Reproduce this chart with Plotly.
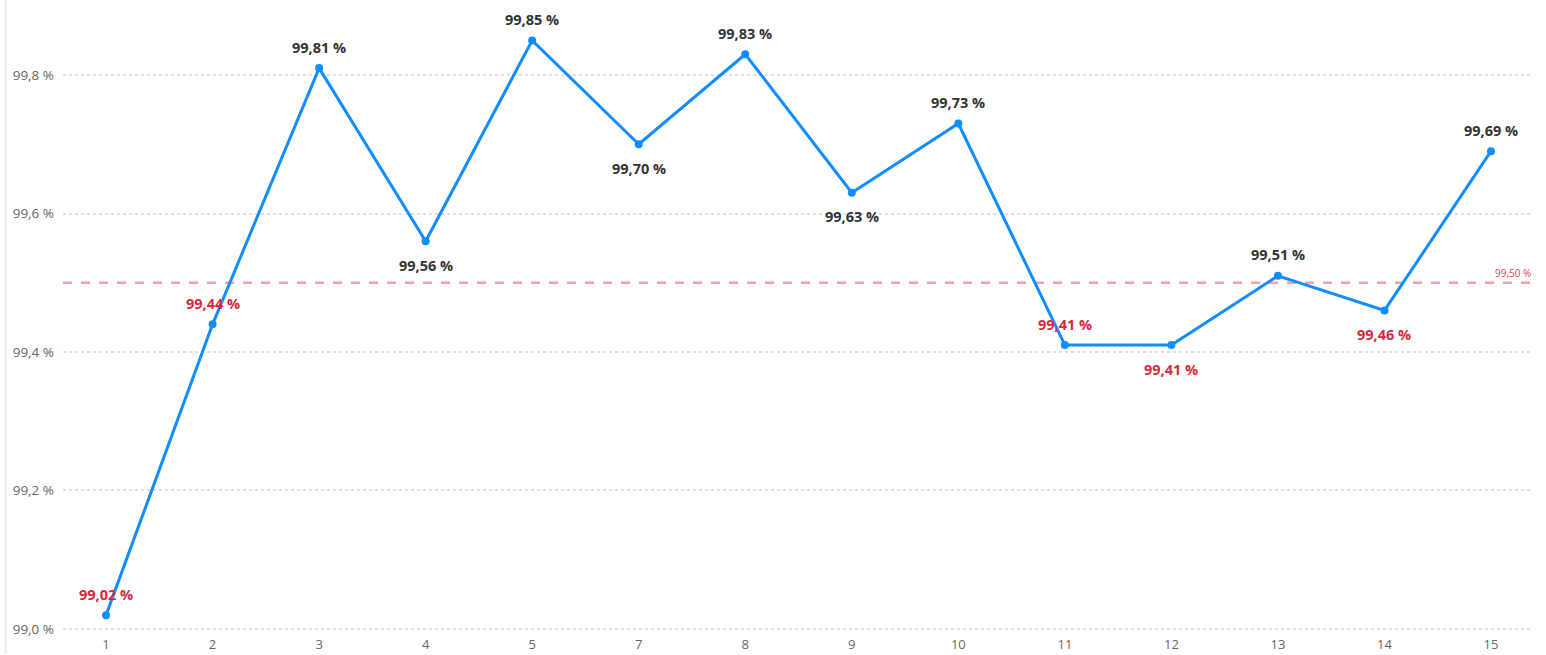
import plotly.graph_objects as go

# Daily availability figures
categories = ["1", "2", "3", "4", "5", "7", "8", "9", "10", "11", "12", "13", "14", "15"]
values = [99.02, 99.44, 99.81, 99.56, 99.85, 99.70, 99.83, 99.63, 99.73, 99.41, 99.41, 99.51, 99.46, 99.69]
label_side = ["top", "top", "top", "bottom", "top", "bottom", "top", "bottom", "top",
              "top", "bottom", "top", "bottom", "top"]
target = 99.50
y_ticks = [99.0, 99.2, 99.4, 99.6, 99.8]

BLUE = "#118DFF"
RED = "#D6293A"
DARK = "#333333"
FONT = "Open Sans"


def pct(v, digits):
    return f"{v:.{digits}f}".replace(".", ",") + " %"


fig = go.Figure()
fig.add_trace(go.Scatter(
    x=categories, y=values,
    mode="lines+markers",
    line=dict(color=BLUE, width=3),
    marker=dict(color=BLUE, size=8),
    cliponaxis=False,
    hoverinfo="skip",
    showlegend=False,
))

# Data labels above or below each point, red when under target
# (annotations on a category axis are placed by category index)
for idx, (v, side) in enumerate(zip(values, label_side)):
    fig.add_annotation(
        x=idx, y=v, text=pct(v, 2), showarrow=False,
        xanchor="center", yanchor="middle",
        yshift=21 if side == "top" else -24,
        font=dict(family=FONT, size=14.5, weight="bold", color=RED if v < target else DARK),
    )

# Target reference line with its label
fig.add_shape(type="line", xref="paper", x0=0, x1=1, yref="y", y0=target, y1=target,
              line=dict(color="#F2A2AA", width=2.5, dash="dash"), layer="below")
fig.add_annotation(xref="paper", x=1, yref="y", y=target, text=pct(target, 2),
                   showarrow=False, xanchor="right", yanchor="bottom", yshift=1,
                   font=dict(family=FONT, size=10, color="#E8414F"))

# Thin frame line at the left edge of the canvas
fig.add_shape(type="line", xref="paper", x0=-0.039, x1=-0.039, yref="paper", y0=-0.03, y1=1.02,
              line=dict(color="#EEEEEE", width=3))

fig.update_layout(
    width=1546, height=655,
    margin=dict(l=63, r=13, t=10, b=20),
    paper_bgcolor="white", plot_bgcolor="white",
    separators=", ",
    xaxis=dict(type="category", range=[-0.404, 13.394], showgrid=False, zeroline=False,
               showline=False, ticks="", automargin=False,
               tickfont=dict(family=FONT, size=13, color="#666666")),
    yaxis=dict(range=[98.9913, 99.8939], tickvals=y_ticks,
               ticktext=[pct(t, 1) for t in y_ticks], automargin=False,
               ticklabelstandoff=8,
               showgrid=True, gridcolor="#E0E0E0", griddash="dot", gridwidth=1.5,
               zeroline=False, showline=False, ticks="",
               tickfont=dict(family=FONT, size=13.5, color="#666666")),
)

fig.write_html("out.html")
